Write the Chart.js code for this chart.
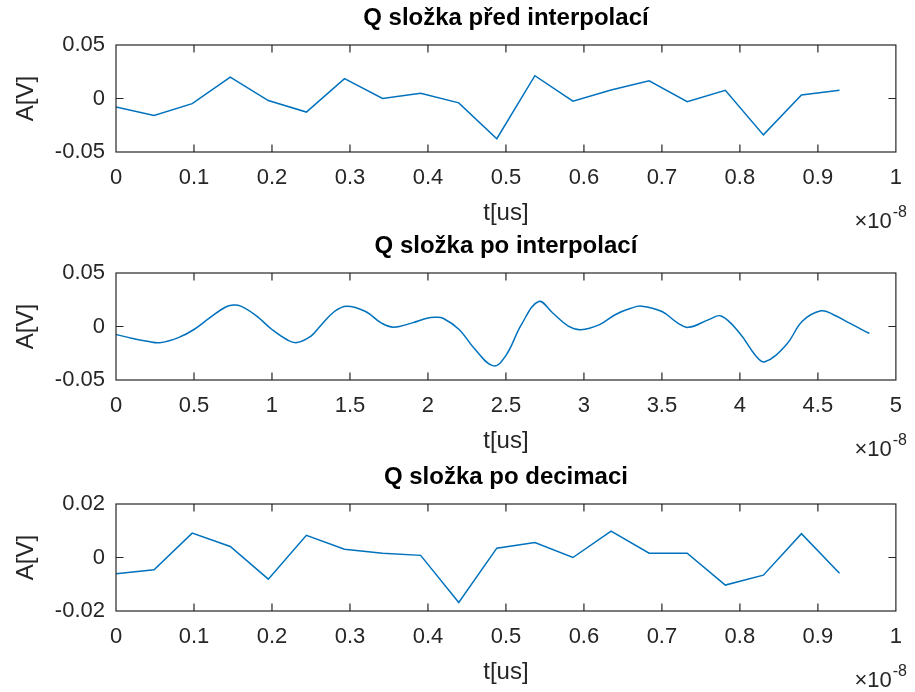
<!DOCTYPE html>
<html><head><meta charset="utf-8">
<script src="https://cdn.jsdelivr.net/npm/chart.js@4.4.1/dist/chart.umd.min.js"></script>
<style>
html,body{margin:0;padding:0;background:#fff;overflow:hidden;}
#wrap{position:relative;width:915px;height:692px;overflow:hidden;}
canvas{position:absolute;left:0;}
</style></head><body>
<div id="wrap">
<canvas id="c1" width="915" height="240" style="top:0px"></canvas>
<canvas id="c2" width="915" height="240" style="top:228px"></canvas>
<canvas id="c3" width="915" height="240" style="top:459px"></canvas>
</div>
<script>
// ---- data (time in units of 1e-8 s, amplitude in V) ----
const T_SAMPLES = [0, 0.0488, 0.0977, 0.1465, 0.1953, 0.2441, 0.2930, 0.3418, 0.3906, 0.4395,
                   0.4883, 0.5371, 0.5859, 0.6348, 0.6836, 0.7324, 0.7813, 0.8301, 0.8789, 0.9277];
const Q_BEFORE = [-0.0080, -0.0159, -0.0048, 0.0200, -0.0019, -0.0127, 0.0185, 0.0000, 0.0048, -0.0041,
                  -0.0376, 0.0213, -0.0025, 0.0080, 0.0166, -0.0029, 0.0076, -0.0340, 0.0032, 0.0076];
const T_INTERP = [0, 0.1, 0.2, 0.28, 0.4, 0.5, 0.6, 0.7, 0.75, 0.8, 0.9, 1.0, 1.1, 1.16, 1.25, 1.3, 1.4, 1.48,
                  1.6, 1.7, 1.78, 1.9, 2.0, 2.05, 2.1, 2.2, 2.3, 2.42, 2.5, 2.6, 2.71, 2.8, 2.9, 2.98, 3.1,
                  3.2, 3.3, 3.37, 3.5, 3.6, 3.67, 3.8, 3.88, 4.0, 4.1, 4.16, 4.3, 4.4, 4.52, 4.6, 4.7, 4.8, 4.83];
const Q_INTERP = [-0.0074, -0.0110, -0.0138, -0.0152, -0.0104, -0.0028, 0.0080, 0.0180, 0.0200, 0.0190,
                  0.0100, -0.0028, -0.0126, -0.0150, -0.0089, -0.0012, 0.0140, 0.0190, 0.0140, 0.0034,
                  -0.0006, 0.0034, 0.0080, 0.0086, 0.0075, -0.0028, -0.0210, -0.0368, -0.0270, 0.0020,
                  0.0233, 0.0126, 0.0003, -0.0030, 0.0018, 0.0110, 0.0170, 0.0190, 0.0140, 0.0034,
                  -0.0008, 0.0064, 0.0098, -0.0065, -0.0270, -0.0330, -0.0166, 0.0049, 0.0147, 0.0110,
                  0.0034, -0.0043, -0.0064];
const Q_DECIM = [-0.0061, -0.0046, 0.0091, 0.0041, -0.0081, 0.0083, 0.0031, 0.0016, 0.0008, -0.0168,
                 0.0035, 0.0056, 0.0000, 0.0099, 0.0016, 0.0016, -0.0103, -0.0066, 0.0089, -0.0059];

const X_TICKS_SHORT = [0, 0.1, 0.2, 0.3, 0.4, 0.5, 0.6, 0.7, 0.8, 0.9, 1];
const X_LABELS_SHORT = ['0', '0.1', '0.2', '0.3', '0.4', '0.5', '0.6', '0.7', '0.8', '0.9', '1'];
const X_TICKS_LONG = [0, 0.5, 1, 1.5, 2, 2.5, 3, 3.5, 4, 4.5, 5];
const X_LABELS_LONG = ['0', '0.5', '1', '1.5', '2', '2.5', '3', '3.5', '4', '4.5', '5'];
const Y_TICKS_05 = [-0.05, 0, 0.05];
const Y_LABELS_05 = ['-0.05', '0', '0.05'];
const Y_TICKS_02 = [-0.02, 0, 0.02];
const Y_LABELS_02 = ['-0.02', '0', '0.02'];

const TITLES = ['Q složka před interpolací', 'Q složka po interpolací', 'Q složka po decimaci'];
const X_TITLE = 't[us]';
const Y_TITLE = 'A[V]';
const EXP_BASE = '\u00d710';
const EXP_POWER = '-8';

// ---- style ----
const FONT = '"Liberation Sans", Arial, Helvetica, sans-serif';
const TXT = '#262626';
const LINE = '#0072BD';
const CANVAS_H = 240;
const AREA_BOTTOM = 152;
const AREA_LEFT = 116;
const TICK_LEN = 7.5;

const matlabBox = {
  id: 'matlabBox',
  afterDatasetsDraw(chart) {
    const {ctx, chartArea: a, scales} = chart;
    ctx.save();
    ctx.strokeStyle = TXT;
    ctx.lineWidth = 1.2;
    ctx.beginPath();
    scales.x.ticks.forEach(t => {
      const px = scales.x.getPixelForValue(t.value);
      if (px <= a.left + 1 || px >= a.right - 1) return;
      ctx.moveTo(px, a.bottom); ctx.lineTo(px, a.bottom - TICK_LEN);
      ctx.moveTo(px, a.top); ctx.lineTo(px, a.top + TICK_LEN);
    });
    scales.y.ticks.forEach(t => {
      const py = scales.y.getPixelForValue(t.value);
      if (py <= a.top + 1 || py >= a.bottom - 1) return;
      ctx.moveTo(a.left, py); ctx.lineTo(a.left + TICK_LEN, py);
      ctx.moveTo(a.right, py); ctx.lineTo(a.right - TICK_LEN, py);
    });
    ctx.stroke();
    ctx.strokeRect(a.left, a.top, a.right - a.left, a.bottom - a.top);
    // x-axis exponent
    ctx.fillStyle = TXT;
    ctx.textBaseline = 'alphabetic';
    ctx.textAlign = 'right';
    ctx.font = '16px ' + FONT;
    const rightEdge = 907;
    ctx.fillText(EXP_POWER, rightEdge, a.top + 172);
    const pw = ctx.measureText(EXP_POWER).width;
    ctx.font = '22px ' + FONT;
    ctx.fillText(EXP_BASE, rightEdge - pw - 1, a.top + 183);
    ctx.restore();
  }
};

function makeChart(id, xs, ys, xTicks, xLabels, yTicks, yLabels, title, smooth) {
  const pts = xs.map((x, i) => ({x: x, y: ys[i]}));
  return new Chart(document.getElementById(id), {
    type: 'line',
    data: { datasets: [{
      data: pts, borderColor: LINE, borderWidth: 1.5, pointRadius: 0, fill: false,
      tension: smooth ? 0.4 : 0, cubicInterpolationMode: 'default'
    }]},
    options: {
      responsive: false, animation: false, events: [],
      layout: { padding: { left: 0, right: 12, top: 0, bottom: 0 } },
      plugins: {
        legend: { display: false }, tooltip: { enabled: false },
        title: { display: true, fullSize: false, text: title, color: '#000',
          font: { family: FONT, size: 24, weight: 'bold', lineHeight: 1.2 },
          padding: { top: 4, bottom: 12.2 } }
      },
      scales: {
        x: {
          type: 'linear', min: xTicks[0], max: xTicks[xTicks.length - 1],
          afterBuildTicks: s => { s.ticks = xTicks.map(v => ({value: v})); },
          afterFit: s => { s.height = CANVAS_H - AREA_BOTTOM; },
          grid: { display: false, drawTicks: false }, border: { display: false },
          ticks: { color: TXT, font: { family: FONT, size: 22 }, padding: 13,
            maxRotation: 0, autoSkip: false, callback: (v, i) => xLabels[i] },
          title: { display: true, text: X_TITLE, color: TXT,
            font: { family: FONT, size: 24, lineHeight: 1.2 }, padding: { top: 0, bottom: 12 } }
        },
        y: {
          type: 'linear', min: yTicks[0], max: yTicks[yTicks.length - 1],
          afterBuildTicks: s => { s.ticks = yTicks.map(v => ({value: v})); },
          afterFit: s => { s.width = AREA_LEFT; },
          grid: { display: false, drawTicks: false }, border: { display: false },
          ticks: { color: TXT, font: { family: FONT, size: 22 }, padding: 11,
            autoSkip: false, callback: (v, i) => yLabels[i] },
          title: { display: true, text: Y_TITLE, color: TXT,
            font: { family: FONT, size: 24, lineHeight: 1.2 }, padding: { top: 12, bottom: 0 } }
        }
      }
    },
    plugins: [matlabBox]
  });
}

makeChart('c1', T_SAMPLES, Q_BEFORE, X_TICKS_SHORT, X_LABELS_SHORT, Y_TICKS_05, Y_LABELS_05, TITLES[0], false);
makeChart('c2', T_INTERP, Q_INTERP, X_TICKS_LONG, X_LABELS_LONG, Y_TICKS_05, Y_LABELS_05, TITLES[1], true);
makeChart('c3', T_SAMPLES, Q_DECIM, X_TICKS_SHORT, X_LABELS_SHORT, Y_TICKS_02, Y_LABELS_02, TITLES[2], false);
</script>
</body></html>
